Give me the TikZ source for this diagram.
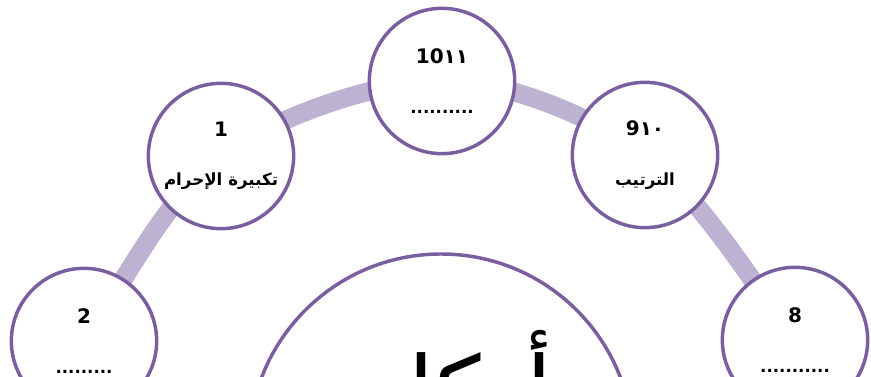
\documentclass[tikz,border=0pt]{standalone}
\usepackage{fontspec}
\TeXXeTstate=1
\newfontfamily\arabicfont[Script=Arabic]{DejaVu Sans}
\usetikzlibrary{calc}
\definecolor{ringpurple}{RGB}{122,94,160}
\definecolor{bandlilac}{RGB}{189,178,210}

\begin{document}
\begin{tikzpicture}[x=0.75pt,y=0.75pt,
        rukn/.style={circle,draw=ringpurple,line width=2.6pt,fill=white,
            minimum size=109pt,inner sep=0pt,align=center,
            font=\arabicfont\bfseries\fontsize{12.5}{15}\selectfont},
        band/.style={bandlilac,line width=14pt}]
        \useasboundingbox (0,0) rectangle (871,377);
        \clip (0,0) rectangle (871,377);

        % the arc of the pillars
        \coordinate (c2) at (84,36);
        \coordinate (c1) at (221,221);
        \coordinate (c1011) at (442,296);
        \coordinate (c910) at (645,222);
        \coordinate (c8) at (795,37);
        \draw[band] plot[smooth,tension=0.55] coordinates {(-20,-120) (c2) (c1) (c1011) (c910) (c8) (900,-120)};

        \node[rukn] (rukn2) at (c2) {{\fontsize{15}{17}\selectfont 2}\\[22pt].........};
        \node[rukn] (rukn1) at (c1) {{\fontsize{15}{17}\selectfont 1}\\[22pt]\beginR تكبيرة الإحرام\endR};
        \node[rukn] (rukn1011) at (c1011) {{\fontsize{15}{17}\selectfont 10١١}\\[22pt]..........};
        \node[rukn] (rukn910) at (c910) {{\fontsize{15}{17}\selectfont 9١٠}\\[22pt]\beginR الترتيب\endR};
        \node[rukn] (rukn8) at (c8) {{\fontsize{15}{17}\selectfont 8}\\[22pt]...........};

        % the centre circle
        \node[circle,draw=ringpurple,line width=2.6pt,fill=white,minimum size=288pt,inner sep=0pt] (arkan) at (441,-69) {};
        \node[anchor=base,font=\arabicfont\fontsize{70}{76}\selectfont] (arkantxt) at (446,-47) {\beginR أركان\endR};
    \end{tikzpicture}
\end{document}
